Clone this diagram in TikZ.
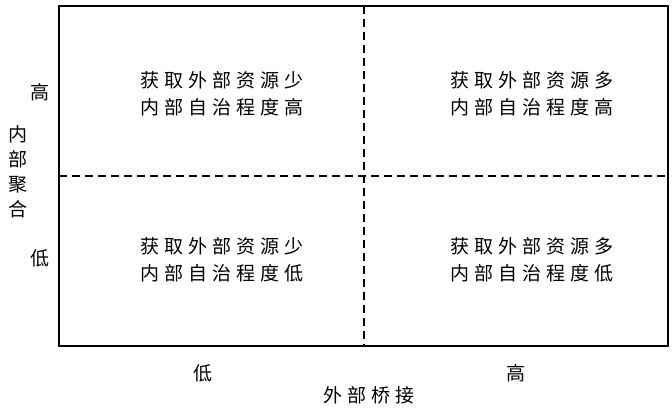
\documentclass[tikz,border=0pt]{standalone}
\usepackage{fontspec}
\newfontfamily\cjk[LetterSpace=26]{Noto Sans CJK SC}
\newfontfamily\cjkn{Noto Sans CJK SC}
\begin{document}
\begin{tikzpicture}[x=1bp,y=-1bp,
  qtext/.style={font=\cjk\fontsize{19bp}{27bp}\selectfont, align=center, inner sep=0pt},
  lab/.style={font=\cjkn\fontsize{19bp}{25bp}\selectfont, align=center, inner sep=0pt},
  divider/.style={line width=1.4bp, dash pattern=on 8bp off 5bp}]
\useasboundingbox (0,0) rectangle (672,411);
\fill[white] (0,0) rectangle (672,411);
\coordinate (tl) at (59,6);
\coordinate (br) at (668,346);
\coordinate (vt) at (364,6);
\coordinate (vb) at (364,346);
\coordinate (hl) at (59,176);
\coordinate (hr) at (668,176);
\draw[divider] (vt) -- (vb);
\draw[divider] (hl) -- (hr);
\draw[line width=1.8bp] (tl) rectangle (br);
\node[qtext] (q1) at (222,94) {获取外部资源少\\内部自治程度高};
\node[qtext] (q2) at (532,94) {获取外部资源多\\内部自治程度高};
\node[qtext] (q3) at (222,260) {获取外部资源少\\内部自治程度低};
\node[qtext] (q4) at (532,260) {获取外部资源多\\内部自治程度低};
\node[lab] (yh) at (40,92) {高};
\node[lab] (yl) at (40,258) {低};
\node[lab] (yt) at (18,172) {内\\部\\聚\\合};
\node[lab] (xl) at (203,373) {低};
\node[lab] (xh) at (516,373) {高};
\node[font=\cjk\fontsize{19bp}{20bp}\selectfont, inner sep=0pt] (xt) at (369,395) {外部桥接};
\end{tikzpicture}
\end{document}
